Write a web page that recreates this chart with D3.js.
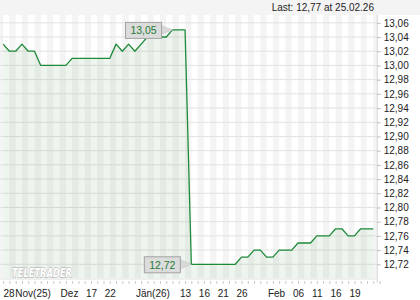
<!DOCTYPE html>
<html><head><meta charset="utf-8">
<script src="https://cdn.jsdelivr.net/npm/d3@7"></script>
<style>
html,body{margin:0;padding:0;background:#fff;}
svg{display:block;font-family:"Liberation Sans",Arial,Helvetica,sans-serif;}
</style>
</head><body>
<svg id="c" width="420" height="300"></svg>
<script>
// ---- data ----
const prices = [
  13.03, 13.02, 13.02, 13.03, 13.02, 13.02, 13.00, 13.00, 13.00, 13.00,
  13.00, 13.01, 13.01, 13.01, 13.01, 13.01, 13.01, 13.01, 13.03, 13.02,
  13.03, 13.02, 13.03, 13.04, 13.04, 13.04, 13.04, 13.05, 13.05, 13.05,
  12.72, 12.72, 12.72, 12.72, 12.72, 12.72, 12.72, 12.72, 12.73, 12.73,
  12.74, 12.74, 12.73, 12.73, 12.74, 12.74, 12.74, 12.75, 12.75, 12.75,
  12.76, 12.76, 12.76, 12.77, 12.77, 12.76, 12.76, 12.77, 12.77, 12.77
];
const yTickValues = [12.72,12.74,12.76,12.78,12.80,12.82,12.84,12.86,12.88,12.90,12.92,12.94,12.96,12.98,13.00,13.02,13.04,13.06];
const xLabelIdx   = [0.85, 4.7, 10.5, 14, 17, 23.8, 29, 32, 35, 38, 43.5, 47, 50, 53, 56];
const xLabelText  = ["28","Nov(25)","Dez","17","22","Jän(26)","13","16","21","26","Feb","06","11","16","19"];
const headerText  = "Last: 12,77 at 25.02.26";
const maxIdx = 27, minIdx = 30;
const watermark = "TELETRADER";

// ---- layout ----
const W = 420, H = 300;
const plotL = 0, plotR = 376.4, plotT = 15, plotB = 278.5;
const svg = d3.select("#c");
const fmt = v => d3.format(".2f")(v).replace(".", ",");

const x = d3.scaleLinear().domain([-0.5, prices.length - 0.5]).range([plotL, plotR]);
const y = d3.scaleLinear().domain([12.70, 13.071]).range([plotB, plotT]);

// header background
svg.append("rect").attr("x",0).attr("y",0).attr("width",W).attr("height",plotT).attr("fill","#f4f4f4");

// plot background + stripes
svg.append("defs").append("clipPath").attr("id","pc")
  .append("rect").attr("x",plotL).attr("y",plotT).attr("width",plotR-plotL).attr("height",plotB-plotT);
const plot = svg.append("g").attr("clip-path","url(#pc)");
plot.append("rect").attr("x",plotL).attr("y",plotT).attr("width",plotR-plotL).attr("height",plotB-plotT).attr("fill","#fff");
const stripeIdx = d3.range(0, prices.length + 2, 2);
plot.selectAll("rect.stripe").data(stripeIdx).join("rect").attr("class","stripe")
  .attr("x", k => x(k - 1)).attr("y", plotT)
  .attr("width", k => x(k) - x(k - 1)).attr("height", plotB - plotT)
  .attr("fill", "#f4f4f4");

// horizontal grid
plot.selectAll("line.grid").data(yTickValues).join("line").attr("class","grid")
  .attr("x1", plotL).attr("x2", plotR)
  .attr("y1", d => y(d)).attr("y2", d => y(d))
  .attr("stroke", "#e2e2e2").attr("stroke-width", 1);

// area + line
const pts = prices.map((v, i) => [i, v]);
plot.append("path").datum(pts)
  .attr("d", d3.area().x(d => x(d[0])).y0(plotB).y1(d => y(d[1])))
  .attr("fill", "#2e8b3e").attr("fill-opacity", 0.085);
plot.append("path").datum(pts)
  .attr("d", d3.line().x(d => x(d[0])).y(d => y(d[1])))
  .attr("fill", "none").attr("stroke", "#1d8a38").attr("stroke-width", 1.3)
  .attr("stroke-linejoin","round");

// bottom line of plot
svg.append("line").attr("x1",plotL).attr("x2",plotR).attr("y1",plotB+0.5).attr("y2",plotB+0.5)
  .attr("stroke","#e0e0e0");

// watermark
svg.append("text").attr("x", 12).attr("y", 276.5)
  .attr("font-size", 12.5).attr("font-weight","bold").attr("font-style","italic")
  .attr("font-family","'DejaVu Sans', sans-serif")
  .attr("textLength", 60).attr("lengthAdjust","spacingAndGlyphs")
  .attr("fill", "#ffffff").attr("stroke", "#a9a9a9").attr("stroke-width", 0.9)
  .attr("paint-order","stroke")
  .text(watermark);

// callouts
function callout(idx) {
  const px = x(idx), py = y(prices[idx]);
  const bw = 36, bh = 16, gap = 11.5;
  const bx = px - gap - bw, by = py - bh / 2;
  const g = svg.append("g");
  g.append("path")
    .attr("d", `M${bx+bw-1},${py-5} L${px},${py} L${bx+bw-1},${py+5} Z`)
    .attr("fill", "#d9d9d9").attr("stroke","#c4c4c4").attr("stroke-width",0.6);
  g.append("rect").attr("x", bx + 0.5).attr("y", by + 0.5).attr("width", bw).attr("height", bh)
    .attr("fill", "#dcdcdc").attr("stroke", "#a3a3a3").attr("stroke-width", 1);
  g.append("text").attr("x", bx + bw / 2 + 0.5).attr("y", py + 0.5)
    .attr("text-anchor","middle").attr("dominant-baseline","central")
    .attr("font-size", 10.5).attr("fill", "#1e7b34").text(fmt(prices[idx]));
}
callout(maxIdx);
callout(minIdx);

// right axis
const yAxis = svg.append("g").attr("transform", `translate(${plotR + 0.3},0)`)
  .call(d3.axisRight(y).tickValues(yTickValues).tickSize(4).tickSizeOuter(0).tickPadding(3).tickFormat(fmt));
yAxis.select(".domain").attr("stroke", "#cfcfcf").attr("d", `M0.5,${plotT}V${plotB + 4}`);
yAxis.selectAll(".tick line").attr("stroke", "#bdbdbd");
yAxis.selectAll(".tick text").attr("font-size", 10).attr("fill", "#222")
  .attr("font-family", "'Liberation Sans', Arial, sans-serif");

// bottom day ticks
const xTicks = svg.append("g").attr("transform", `translate(0,${plotB + 2.5})`)
  .call(d3.axisBottom(x).tickValues(d3.range(prices.length + 1)).tickSize(3).tickSizeOuter(0).tickFormat(""));
xTicks.select(".domain").remove();
xTicks.selectAll(".tick line").attr("stroke", "#c8c8c8");

// bottom labels
const xLab = svg.append("g").attr("transform", `translate(0,${plotB + 5.5})`)
  .call(d3.axisBottom(x).tickValues(xLabelIdx).tickSize(0).tickPadding(6).tickFormat((d, i) => xLabelText[i]));
xLab.select(".domain").remove();
xLab.selectAll(".tick text").attr("font-size", 10).attr("fill", "#222")
  .attr("font-family", "'Liberation Sans', Arial, sans-serif");

// header
svg.append("text").attr("x", 374).attr("y", 11).attr("text-anchor", "end")
  .attr("font-size", 10).attr("fill", "#222").text(headerText);
</script>
</body></html>
